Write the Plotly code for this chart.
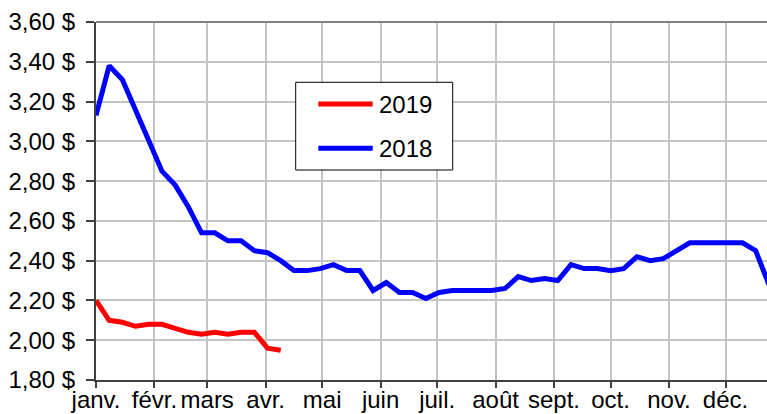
import plotly.graph_objects as go
import pandas as pd

# Weekly prices (2019 plotted on the same calendar as 2018)
week_dates = pd.date_range("2018-01-01", periods=52, freq="7D")

prices_2018 = [3.13, 3.38, 3.31, 3.16, 3.00, 2.85, 2.78, 2.67, 2.54, 2.54,
               2.50, 2.50, 2.45, 2.44, 2.40, 2.35, 2.35, 2.36, 2.38, 2.35,
               2.35, 2.25, 2.29, 2.24, 2.24, 2.21, 2.24, 2.25, 2.25, 2.25,
               2.25, 2.26, 2.32, 2.30, 2.31, 2.30, 2.38, 2.36, 2.36, 2.35,
               2.36, 2.42, 2.40, 2.41, 2.45, 2.49, 2.49, 2.49, 2.49, 2.49,
               2.45, 2.28]

prices_2019 = [2.20, 2.10, 2.09, 2.07, 2.08, 2.08, 2.06, 2.04, 2.03, 2.04,
               2.03, 2.04, 2.04, 1.96, 1.95]

month_starts = pd.date_range("2018-01-01", periods=12, freq="MS")
month_labels = ["janv.", "févr.", "mars", "avr.", "mai", "juin", "juil.",
                "août", "sept.", "oct.", "nov.", "déc."]

series_names = ["2019", "2018"]
series_colors = ["#ff0000", "#0000ff"]

FONT = "Arial, Liberation Sans, sans-serif"
FS = 24

fig = go.Figure()
fig.add_trace(go.Scatter(
    x=week_dates[:len(prices_2019)], y=prices_2019, mode="lines", name=series_names[0],
    line=dict(color=series_colors[0], width=5), showlegend=False))
fig.add_trace(go.Scatter(
    x=week_dates, y=prices_2018, mode="lines", name=series_names[1],
    line=dict(color=series_colors[1], width=5), showlegend=False))

# Custom legend box (paper coordinates)
shapes = [
    dict(type="line", xref="paper", yref="paper", x0=0, x1=1, y0=1, y1=1,
         line=dict(color="#808080", width=2), layer="above"),
    dict(type="rect", xref="paper", yref="paper", x0=0.2976, x1=0.5316,
         y0=0.5866, y1=0.8316, line=dict(color="black", width=1),
         fillcolor="white", layer="above"),
]
annotations = []
legend_y = [0.7709, 0.6472]
for name, color, ly in zip(series_names, series_colors, legend_y):
    shapes.append(dict(type="line", xref="paper", yref="paper", x0=0.3313, x1=0.4124,
                       y0=ly, y1=ly, line=dict(color=color, width=5), layer="above"))
    annotations.append(dict(xref="paper", yref="paper", x=0.4183, y=ly, text=name,
                            showarrow=False, xanchor="left", yanchor="middle",
                            font=dict(family=FONT, size=FS, color="black")))

fig.update_layout(
    width=767, height=414,
    margin=dict(l=96, r=0, t=22, b=34),
    paper_bgcolor="white", plot_bgcolor="white",
    separators=", ",
    font=dict(family=FONT, size=FS, color="black"),
    showlegend=False,
    xaxis=dict(
        type="date", range=["2018-01-01", "2018-12-23"], automargin=False,
        tickmode="array", tickvals=month_starts, ticktext=month_labels,
        showgrid=True, gridcolor="#c4c4c4", gridwidth=2,
        showline=True, linecolor="#404040", linewidth=2,
        ticks="outside", ticklen=6, tickwidth=2, tickcolor="#404040",
        ticklabelstandoff=-9,
        tickfont=dict(family=FONT, size=FS, color="black"),
        zeroline=False),
    yaxis=dict(
        range=[1.80, 3.60], tick0=1.8, dtick=0.2, automargin=False,
        tickformat=".2f", ticksuffix=" $",
        showgrid=True, gridcolor="#c4c4c4", gridwidth=2,
        showline=True, linecolor="#404040", linewidth=2,
        ticks="outside", ticklen=8, tickwidth=2, tickcolor="#404040",
        ticklabelstandoff=6,
        tickfont=dict(family=FONT, size=FS, color="black"),
        zeroline=False),
    shapes=shapes,
    annotations=annotations,
)

# Remove the default 8px page margin so the figure fills the window exactly.
fig.write_html("out.html",
               config={"displayModeBar": False},
               post_script="document.body.style.margin='0';document.body.style.overflow='hidden';")
